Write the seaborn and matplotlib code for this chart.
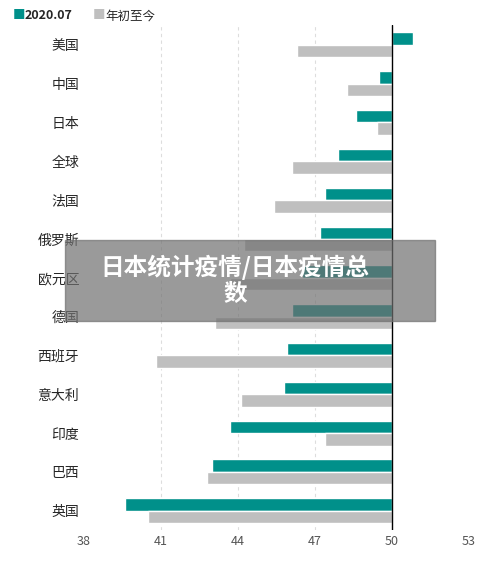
import numpy as np
import pandas as pd
import matplotlib
matplotlib.use("Agg")
import matplotlib.pyplot as plt
import seaborn as sns

sns.set_style("white")
plt.rcParams['font.family'] = ['Noto Sans CJK SC', 'DejaVu Sans']

countries = ["美国", "中国", "日本", "全球", "法国", "俄罗斯", "欧元区", "德国",
             "西班牙", "意大利", "印度", "巴西", "英国"]
jul2020 = [50.8, 49.5, 48.6, 47.9, 47.4, 47.2, 46.5, 46.1, 45.9, 45.8, 43.7, 43.0, 39.6]
ytd = [46.3, 48.25, 49.4, 46.1, 45.4, 44.25, 43.7, 43.1, 40.8, 44.1, 47.4, 42.8, 40.5]
series_names = ["2020.07", "年初至今"]
colors = ["#00908a", "#bfbfbf"]
base = 50

df = pd.DataFrame({"country": countries * 2,
                   "value": jul2020 + ytd,
                   "series": [series_names[0]] * 13 + [series_names[1]] * 13})
df["delta"] = df["value"] - base

fig = plt.figure(figsize=(5, 5.64), dpi=100)
ax = fig.add_axes([0.168, 0.06, 0.77, 0.895])
sns.barplot(data=df, y="country", x="delta", hue="series", palette=colors,
            orient="h", width=0.64, gap=0, ax=ax, legend=False, left=base, saturation=1)
ax.set_xlim(38, 53)
ax.set_xticks([38, 41, 44, 47, 50, 53])
ax.set_xlabel("")
ax.set_ylabel("")
ax.tick_params(axis="x", labelsize=9, colors="#555555", length=0)
ax.tick_params(axis="y", labelsize=10, length=0)
for x in [41, 44, 47]:
    ax.axvline(x, color="#dddddd", ls=(0, (3, 3)), lw=0.8, zorder=0)
ax.axvline(base, color="black", lw=1, zorder=3)
for s in ax.spines.values():
    s.set_visible(False)

# legend
for i, (name, c) in enumerate(zip(series_names, colors)):
    fig.text(0.025 + i * 0.16, 0.972, "■", color=c, fontsize=9, va="center")
    fig.text(0.05 + i * 0.16, 0.972, name, fontsize=9, va="center",
             fontweight="bold" if i == 0 else "normal")

# watermark overlay
fig.patches.append(plt.Rectangle((0.13, 0.43), 0.74, 0.145, transform=fig.transFigure,
                                 color="#707070", alpha=0.7, zorder=10))
fig.text(0.47, 0.503, "日本统计疫情/日本疫情总\n数", color="white", fontsize=17,
         fontweight="bold", ha="center", va="center", zorder=11, linespacing=1.1)

fig.savefig("out.png", dpi=100)
